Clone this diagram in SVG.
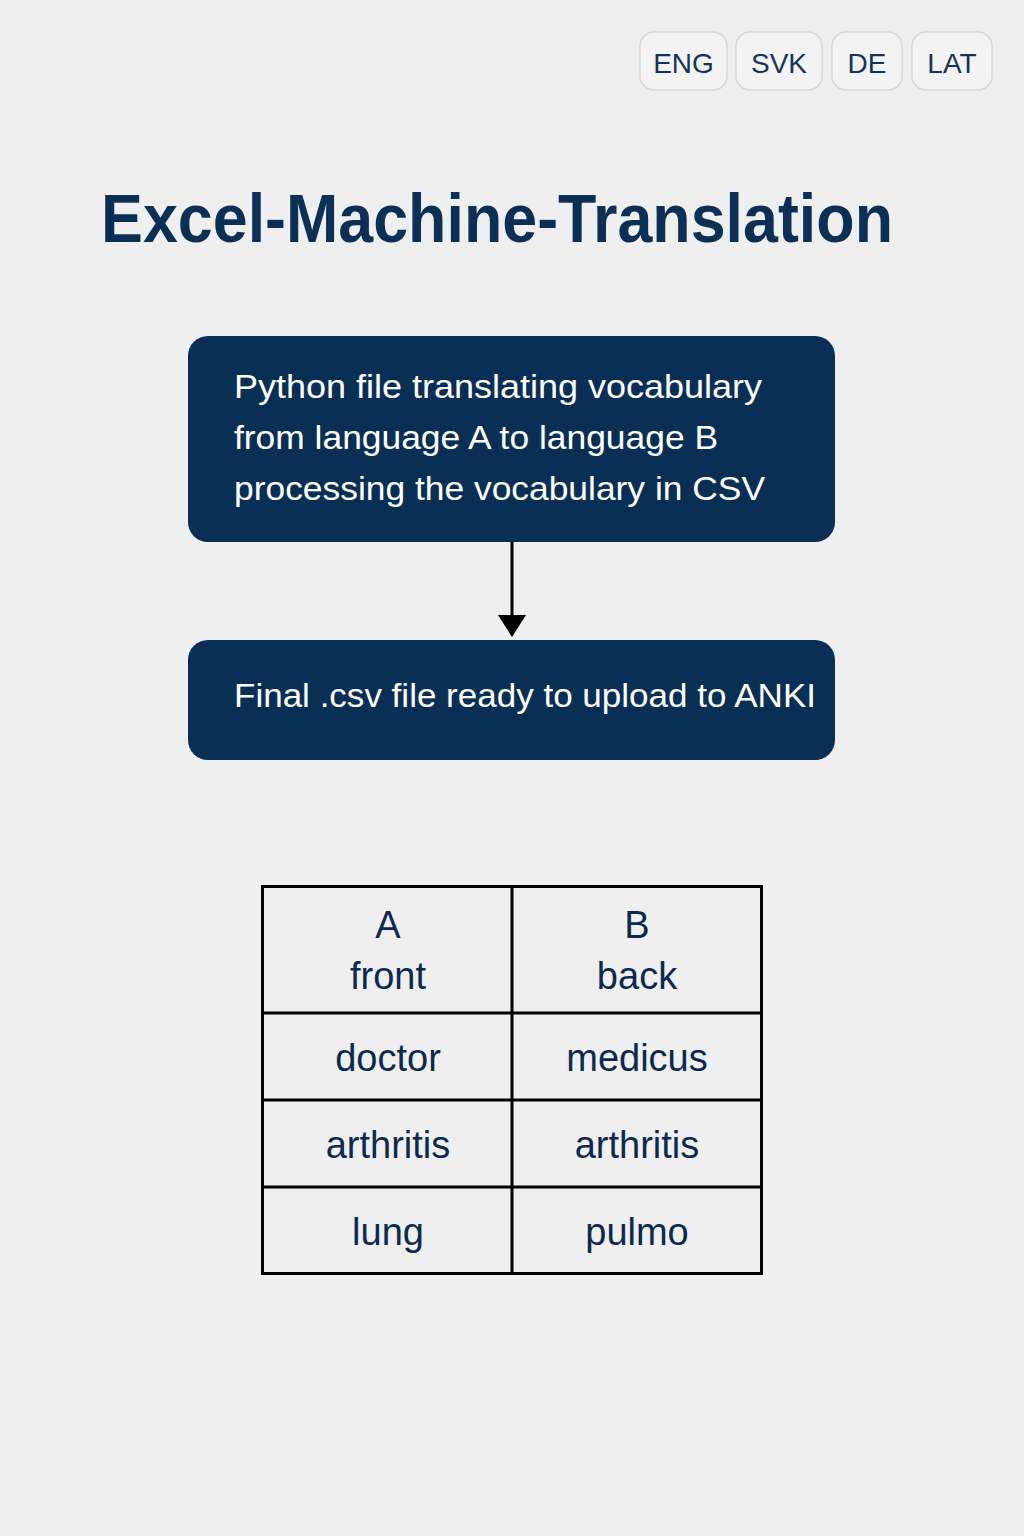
<svg xmlns="http://www.w3.org/2000/svg" width="1024" height="1536" viewBox="0 0 1024 1536">
<style>
.pill{fill:#f3f3f3;stroke:#d9d9d9;stroke-width:1.5}
.pt{font-family:"Liberation Sans",Arial,sans-serif;font-size:28px;fill:#13335a;text-anchor:middle}
.box{fill:#0a2f55}
.bt{font-family:"Liberation Sans",Arial,sans-serif;font-size:34px;fill:#ffffff}
.cell{fill:none;stroke:#000;stroke-width:3}
.ct{font-family:"Liberation Sans",Arial,sans-serif;font-size:38px;fill:#0c2a4e;text-anchor:middle}
</style>
<rect width="1024" height="1536" fill="#efefef"/>
<g id="lang-eng"><rect class="pill" x="640" y="32" width="87" height="58" rx="14"/><text class="pt" x="683.5" y="73">ENG</text></g>
<g id="lang-svk"><rect class="pill" x="736" y="32" width="86" height="58" rx="14"/><text class="pt" x="779" y="73">SVK</text></g>
<g id="lang-de"><rect class="pill" x="832" y="32" width="70" height="58" rx="14"/><text class="pt" x="867" y="73">DE</text></g>
<g id="lang-lat"><rect class="pill" x="912" y="32" width="80" height="58" rx="14"/><text class="pt" x="952" y="73">LAT</text></g>
<g id="title"><text x="101" y="242" font-family="'Liberation Sans',Arial,sans-serif" font-weight="bold" font-size="68" fill="#0c2f55" textLength="792" lengthAdjust="spacingAndGlyphs">Excel-Machine-Translation</text></g>
<g id="node-python">
<rect class="box" x="188" y="336" width="647" height="206" rx="20"/>
<text class="bt" x="234" y="398" textLength="528" lengthAdjust="spacingAndGlyphs">Python file translating vocabulary</text>
<text class="bt" x="234" y="449" textLength="484" lengthAdjust="spacingAndGlyphs">from language A to language B</text>
<text class="bt" x="234" y="500" textLength="531" lengthAdjust="spacingAndGlyphs">processing the vocabulary in CSV</text>
</g>
<g id="node-final">
<rect class="box" x="188" y="640" width="647" height="120" rx="20"/>
<text class="bt" x="234" y="707" textLength="582" lengthAdjust="spacingAndGlyphs">Final .csv file ready to upload to ANKI</text>
</g>
<g id="connectors">
<line x1="512" y1="542" x2="512" y2="616" stroke="#000" stroke-width="3"/>
<path d="M498,615 L526,615 L512,637 z" fill="#000"/>
</g>
<g id="table">
<rect class="cell" x="262.5" y="886.5" width="499" height="387"/>
<line class="cell" x1="512" y1="886" x2="512" y2="1274"/>
<line class="cell" x1="262" y1="1013" x2="762" y2="1013"/>
<line class="cell" x1="262" y1="1100" x2="762" y2="1100"/>
<line class="cell" x1="262" y1="1187" x2="762" y2="1187"/>
<text class="ct" x="388" y="938">A</text>
<text class="ct" x="388" y="989">front</text>
<text class="ct" x="637" y="938">B</text>
<text class="ct" x="637" y="989">back</text>
<text class="ct" x="388" y="1071">doctor</text>
<text class="ct" x="637" y="1071">medicus</text>
<text class="ct" x="388" y="1158">arthritis</text>
<text class="ct" x="637" y="1158">arthritis</text>
<text class="ct" x="388" y="1245">lung</text>
<text class="ct" x="637" y="1245">pulmo</text>
</g>
</svg>
